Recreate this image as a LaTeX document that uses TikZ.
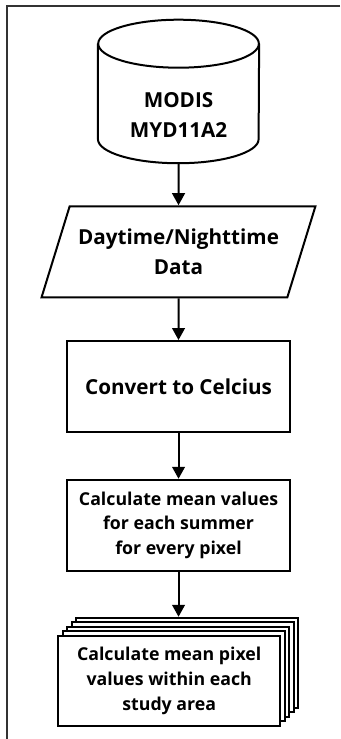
\documentclass[tikz,border=0pt]{standalone}
\usepackage{fontspec}
\setmainfont{Open Sans}
\usepackage{tikz}
\usetikzlibrary{positioning}
\usetikzlibrary{shapes.geometric,shadows,arrows.meta}

\begin{document}
\begin{tikzpicture} [font=\bfseries\fontsize{15.5pt}{22.5pt}\selectfont, node distance = 31.5pt]
            % Set primary nodes
            \tikzset{
                sourceNode/.style={
                        rectangle,
                        minimum height=107.25pt,
                        minimum width=120.5pt
                    }
            }
            \tikzset{
                inputNode/.style={
                        draw,
                        trapezium,
                        trapezium left angle=63.7,
                        trapezium right angle=116.3,
                        trapezium stretches=true,
                        line width=1.5pt,
                        minimum height=68.25pt,
                        minimum width=206pt,
                        align=center
                    }
            }
            \tikzset{
                processNode/.style={
                        draw,
                        rectangle,
                        line width=1.5pt,
                        minimum height=68.25pt,
                        minimum width=167.5pt,
                        align=center
                    }
            }
            \tikzset{
                smallText/.style={
                        font=\bfseries\fontsize{13.3pt}{18.5pt}\selectfont
                    }
            }
            \tikzset{
                multiNode/.style={
                        processNode,
                        smallText,
                        fill=white,
                        minimum height=67.5pt,
                        minimum width=166.5pt,
                        copy shadow={shadow xshift=13.5pt, shadow yshift=13.5pt},
                        copy shadow={shadow xshift=10.125pt, shadow yshift=10.125pt},
                        copy shadow={shadow xshift=6.75pt, shadow yshift=6.75pt},
                        copy shadow={shadow xshift=3.375pt, shadow yshift=3.375pt}
                    }
            }
            % Configure arrows
            \tikzstyle{arrow} = [line width=1.5pt, -{Triangle[length=9pt, width=9.5pt]}]
            \tikzstyle{frame} = [line width=1pt, black!80]
            \tikzstyle{outline} = [line width=1.5pt]
            \useasboundingbox (0,0) rectangle (255pt,-554.25pt);
            \draw[frame] (255pt,-4.5pt) -- (5.25pt,-4.5pt) -- (5.25pt,-554.25pt);
            % Placing nodes
            \node[sourceNode](modis) at (133.9pt,-68.6pt){};
            \node[align=center](modisText) at ([yshift=36.2pt]modis.south){MODIS\\MYD11A2};
            \node[inputNode, below = of modis](dayNight){Daytime/Nighttime\\Data};
            \node[processNode, below = 31.35pt of dayNight](celsius){Convert to Celcius};
            \node[processNode, smallText, below = 34.3pt of celsius](summerMean){Calculate mean values\\for each summer\\for every pixel};
            \node[multiNode, below = 47.25pt of summerMean, xshift = -7pt](areaMean){Calculate mean pixel\\values within each\\study area};
            \coordinate (areaTop) at ([yshift=13.5pt]areaMean.north);
            % Cylinder outline
            \draw[outline] ([yshift=-18pt]modis.north west) -- ([yshift=18pt]modis.south west)
                arc[start angle=180, end angle=360, x radius=60.25pt, y radius=18pt]
                -- ([yshift=-18pt]modis.north east);
            \draw[outline] ([yshift=-18pt]modis.north) ellipse [x radius=60.25pt, y radius=18pt];
            % Draw arrows
            \draw[arrow](modis) -- (dayNight);
            \draw[arrow](dayNight) -- (celsius);
            \draw[arrow](celsius) -- (summerMean);
            \draw[arrow](summerMean.south) -- (summerMean.south |- areaTop);
        \end{tikzpicture}
\end{document}
